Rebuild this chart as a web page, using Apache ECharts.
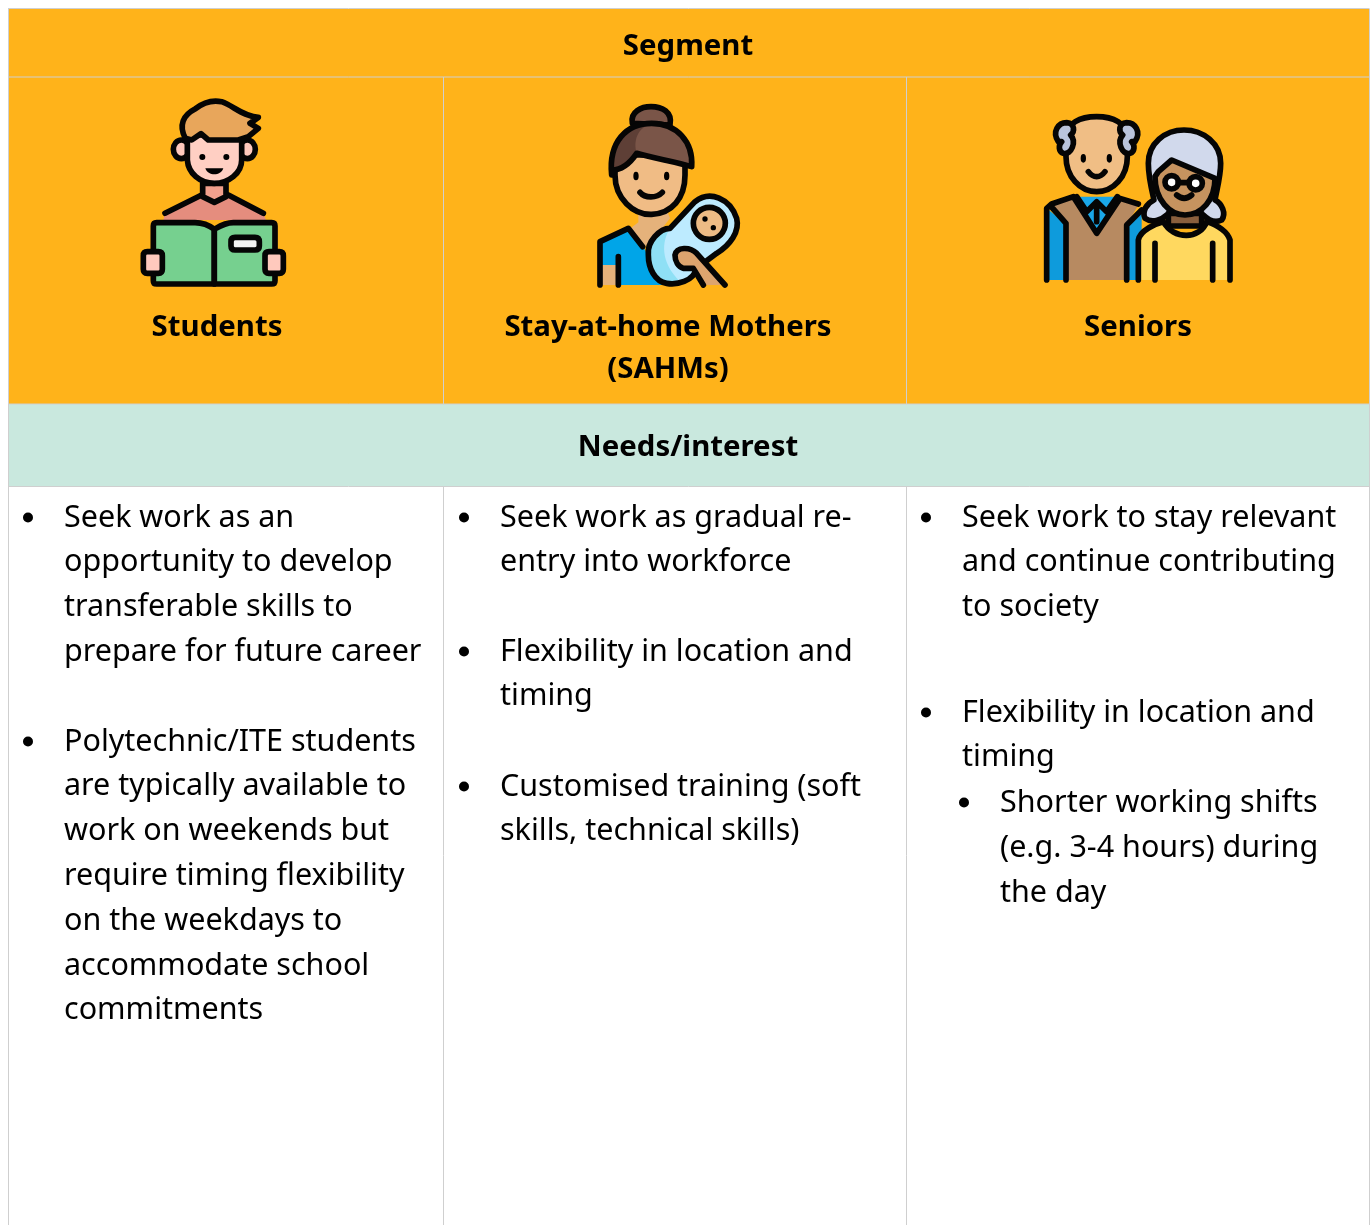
<!DOCTYPE html>
<html><head><meta charset="utf-8">
<style>html,body{margin:0;padding:0;background:#fff}#c{width:1370px;height:1225px}</style>
<script src="https://cdn.jsdelivr.net/npm/echarts@6/dist/echarts.min.js"></script>
</head><body><div id="c"></div>
<script>
const headerTitle = 'Segment';
const needsTitle = 'Needs/interest';
const segmentNames = [['Students'], ['Stay-at-home Mothers', '(SAHMs)'], ['Seniors']];
const studentNeeds = [
  ['Seek work as an', 'opportunity to develop', 'transferable skills to', 'prepare for future career'],
  ['Polytechnic/ITE students', 'are typically available to', 'work on weekends but', 'require timing flexibility', 'on the weekdays to', 'accommodate school', 'commitments']
];
const motherNeeds = [
  ['Seek work as gradual re-', 'entry into workforce'],
  ['Flexibility in location and', 'timing'],
  ['Customised training (soft', 'skills, technical skills)']
];
const seniorNeeds = [
  ['Seek work to stay relevant', 'and continue contributing', 'to society'],
  ['Flexibility in location and', 'timing']
];
const seniorSubNeeds = ['Shorter working shifts', '(e.g. 3-4 hours) during', 'the day'];

const FONT = '"Noto Sans"';
const BODY = '400 30.5px ' + FONT, BOLD = '700 29.4px ' + FONT;
const ORANGE = '#FFB31A', MINT = '#C9E8DE', GRID = '#CFCFCF', INK = '#000';

const studentIcon = [
  ['M130 405 L135 385 L245 330 L325 330 L430 385 L438 405 Z', '#E58D7E', 0],
  ['M135 385 L245 330 M325 330 L430 385', 'none', 1],
  ['M248 295 V335 L283 352 L318 335 V295 Z', '#F2A08D', 1],
  ['M160 193 a24 28 0 1 0 48 0 a24 28 0 1 0 -48 0 Z', '#FFC9BD', 1],
  ['M358 193 a24 28 0 1 0 48 0 a24 28 0 1 0 -48 0 Z', '#FFC9BD', 1],
  ['M202 150 V225 C205 265 240 295 283 295 C325 295 365 265 365 225 V150 Z', '#FFCFC3', 1],
  ['M196 160 C175 120 190 90 225 72 C250 52 280 45 305 50 C340 62 370 95 415 97 L390 115 L415 130 L385 155 L355 165 L265 165 L243 146 L215 165 Z', '#E8A65B', 1],
  ['M238 216 a9 9 0 1 0 18 0 a9 9 0 1 0 -18 0 Z M310 216 a9 9 0 1 0 18 0 a9 9 0 1 0 -18 0 Z', INK, 0],
  ['M256 250 H310 C302 274 264 274 256 250 Z', INK, 0],
  ['M110 413 H225 C250 413 270 423 283 433 V597 H110 Q100 597 100 587 V423 Q100 413 110 413 Z', '#76D08F', 1],
  ['M283 433 C300 423 315 413 340 413 H455 Q465 413 465 423 V587 Q465 597 455 597 H283 Z', '#76D08F', 1],
  ['M345 457 H405 Q418 457 418 470 V483 Q418 495 405 495 H345 Q333 495 333 483 V470 Q333 457 345 457 Z', '#F3F3F3', 1],
  ['M82 500 H115 Q127 500 127 512 V553 Q127 565 115 565 H82 Q70 565 70 553 V512 Q70 500 82 500 Z', '#FFC9BD', 1],
  ['M447 500 H478 Q490 500 490 512 V553 Q490 565 478 565 H447 Q435 565 435 553 V512 Q435 500 447 500 Z', '#FFC9BD', 1]
];
const motherIcon = [
  ['M157 85 C150 50 185 35 213 35 C245 35 278 50 270 90 Z', '#7A5548', 1],
  ['M60 570 V440 L145 400 L190 455 L250 570 Z', '#00A5E8', 0],
  ['M175 345 V382 L145 405 L188 458 L215 440 L270 370 L260 345 Z', '#E5B27B', 0],
  ['M62 510 H112 V570 H62 Z', '#E5B27B', 0],
  ['M60 570 V440 L145 400 L188 455 M115 485 V570', 'none', 1],
  ['M105 240 C105 310 160 360 215 358 C275 355 315 310 315 240 V180 H105 Z', '#F0BC85', 1],
  ['M95 240 C85 140 140 85 215 85 C290 85 340 140 335 215 C290 200 220 190 170 175 C150 205 125 225 95 225 Z', '#7A5548', 0],
  ['M95 225 C85 140 140 85 215 85 C170 100 160 140 170 175 C150 205 125 225 95 225 Z', '#5E3F36', 0],
  ['M95 240 C85 140 140 85 215 85 C290 85 340 140 335 215 C290 200 220 190 170 175 C150 205 125 225 95 225 Z', 'none', 1],
  ['M160 243 a8 13 0 1 0 16 0 a8 13 0 1 0 -16 0 Z M252 243 a8 13 0 1 0 16 0 a8 13 0 1 0 -16 0 Z', INK, 0],
  ['M180 292 C195 310 230 310 247 292', 'none', 1],
  ['M205 480 C200 440 240 400 270 400 L345 320 C390 285 450 310 470 370 C480 410 450 450 410 475 L350 520 C340 560 290 570 260 565 C225 560 205 520 205 480 Z', '#BDEBFF', 0],
  ['M205 480 C200 440 240 400 270 400 C245 440 240 500 300 560 C290 568 270 566 260 565 C225 560 205 520 205 480 Z', '#8FE0F5', 0],
  ['M205 480 C200 440 240 400 270 400 L345 320 C390 285 450 310 470 370 C480 410 450 450 410 475 L350 520 C340 560 290 570 260 565 C225 560 205 520 205 480 Z', 'none', 1],
  ['M340 385 a48 48 0 1 0 96 0 a48 48 0 1 0 -96 0 Z', '#EDBB85', 1],
  ['M367 372 a8 8 0 1 0 16 0 a8 8 0 1 0 -16 0 Z M392 398 a8 8 0 1 0 16 0 a8 8 0 1 0 -16 0 Z', INK, 0],
  ['M285 480 C290 455 330 455 350 475 L435 570 H370 L340 520 L310 520 C295 515 285 500 285 480 Z', '#DDA46E', 0],
  ['M435 570 L350 475 C330 455 290 455 285 480 C285 500 295 515 310 520 L340 520 L370 570', 'none', 1]
];
const seniorIcon = [
  ['M50 540 V325 L105 370 V540 Z', '#0E9BDC', 0],
  ['M290 375 L335 330 V540 H290 Z', '#0E9BDC', 0],
  ['M60 315 L130 290 L200 400 L270 295 L325 315 L290 375 V540 H110 V370 Z', '#B78A61', 0],
  ['M135 290 L200 400 L265 290 Z', '#1AA7E8', 0],
  ['M50 540 V325 L65 312 L130 290 L200 400 L270 295 L325 312 M62 318 L108 370 V540 M335 330 L290 375 V540', 'none', 1],
  ['M200 305 L170 335 L140 290 M200 305 L230 335 L262 290 M200 310 V365', 'none', 1],
  ['M108 170 C108 230 150 275 200 275 C250 275 292 230 292 170 V110 C290 70 250 50 200 50 C150 50 110 70 108 110 Z', '#F0BE85', 1],
  ['M85 125 C65 95 85 68 110 68 C135 70 135 95 122 105 C140 125 125 165 100 160 C85 155 85 135 95 125 Z', '#B9C4DC', 1],
  ['M315 125 C335 95 315 68 290 68 C265 70 265 95 278 105 C260 125 275 165 300 160 C315 155 315 135 305 125 Z', '#B9C4DC', 1],
  ['M152 175 a8 13 0 1 0 16 0 a8 13 0 1 0 -16 0 Z M230 175 a8 13 0 1 0 16 0 a8 13 0 1 0 -16 0 Z', INK, 0],
  ['M175 215 C190 235 210 235 225 215', 'none', 1],
  ['M355 190 C355 130 405 90 462 90 C520 90 572 130 572 190 C572 230 560 270 555 300 C575 310 590 340 575 360 C555 370 535 360 520 345 H410 C395 360 365 370 345 355 C335 335 350 310 372 300 C365 270 355 230 355 190 Z', '#D1D9EC', 1],
  ['M415 340 V378 H515 V340 Z', '#8A5F3D', 1],
  ['M325 540 V420 C330 390 380 370 400 365 C430 420 510 420 530 365 C560 375 590 390 600 420 V540 Z', '#FFD85F', 0],
  ['M325 540 V420 C330 390 380 370 400 365 C430 420 510 420 530 365 C560 375 590 390 600 420 V540', 'none', 1],
  ['M375 230 C375 300 420 345 465 345 C515 345 555 300 555 235 L425 180 L385 215 Z', '#C6935F', 1],
  ['M405 247 a20 20 0 1 0 40 0 a20 20 0 1 0 -40 0 Z', '#FFFFFF', 1],
  ['M477 250 a20 20 0 1 0 40 0 a20 20 0 1 0 -40 0 Z', '#FFFFFF', 1],
  ['M445 248 H477 M440 285 C455 298 470 298 485 285 M375 430 V540 M548 430 V540', 'none', 1]
];

function text(t, x, y, font, align) {
  return { type: 'text', style: { text: t, x, y: y + 2, font, fill: INK, textAlign: align || 'left', textVerticalAlign: 'middle' } };
}
function rect(x, y, w, h, fill) {
  return { type: 'rect', shape: { x, y, width: w, height: h }, style: { fill } };
}
function vline(x, y1, y2) { return { type: 'line', shape: { x1: x, y1, x2: x, y2 }, style: { stroke: GRID, lineWidth: 1 } }; }
function hline(y, x1, x2) { return { type: 'line', shape: { x1, y1: y, x2, y2: y }, style: { stroke: GRID, lineWidth: 1 } }; }
function bullet(x, y) { return { type: 'circle', shape: { cx: x, cy: y, r: 5 }, style: { fill: INK } }; }
function icon(parts, x, y) {
  return {
    type: 'group', x, y, scaleX: 1 / 3, scaleY: 1 / 3,
    children: parts.map(p => ({
      type: 'path', shape: { pathData: p[0] },
      style: { fill: p[1], stroke: p[2] ? '#050505' : null, lineWidth: 17, lineJoin: 'round', lineCap: 'round' }
    }))
  };
}
function blockList(blocks, textX, bulletX, startYs) {
  const out = [];
  blocks.forEach((lines, b) => {
    out.push(bullet(bulletX, startYs[b] + 1.5));
    lines.forEach((l, i) => out.push(text(l, textX, startYs[b] + i * 44.8, BODY)));
  });
  return out;
}

function renderItem() {
  const kids = [
    rect(8, 9, 1361.5, 68, ORANGE),
    rect(8, 77, 1361.5, 327, ORANGE),
    rect(8, 404, 1361.5, 82, MINT),
    hline(8.5, 8, 1369.5), hline(77, 8, 1369.5), hline(404, 8, 1369.5), hline(486.5, 8, 1369.5),
    vline(8.5, 9, 1225), vline(443.5, 77, 404), vline(906.5, 77, 404),
    vline(443.5, 486, 1225), vline(906.5, 486, 1225), vline(1369.5, 9, 1225),
    text(headerTitle, 688, 45, BOLD, 'center'),
    text(needsTitle, 688, 446, BOLD, 'center'),
    icon(studentIcon, 120, 85), icon(motherIcon, 580, 95), icon(seniorIcon, 1030, 100)
  ];
  const cx = [217, 668, 1138];
  segmentNames.forEach((lines, c) => lines.forEach((l, i) => kids.push(text(l, cx[c], 326 + i * 42, BOLD, 'center'))));
  kids.push(...blockList(studentNeeds, 64, 28, [516, 740]));
  kids.push(...blockList(motherNeeds, 500, 464, [516, 650, 785]));
  kids.push(...blockList(seniorNeeds, 962, 926, [516, 711]));
  kids.push(bullet(964, 802.5));
  seniorSubNeeds.forEach((l, i) => kids.push(text(l, 1000, 801 + i * 45, BODY)));
  return { type: 'group', children: kids };
}

const chart = echarts.init(document.getElementById('c'), null, { renderer: 'canvas' });
chart.setOption({
  animation: false,
  backgroundColor: '#fff',
  series: [{ type: 'custom', coordinateSystem: 'none', silent: true, clip: false, data: [0], renderItem }]
});
</script></body></html>
